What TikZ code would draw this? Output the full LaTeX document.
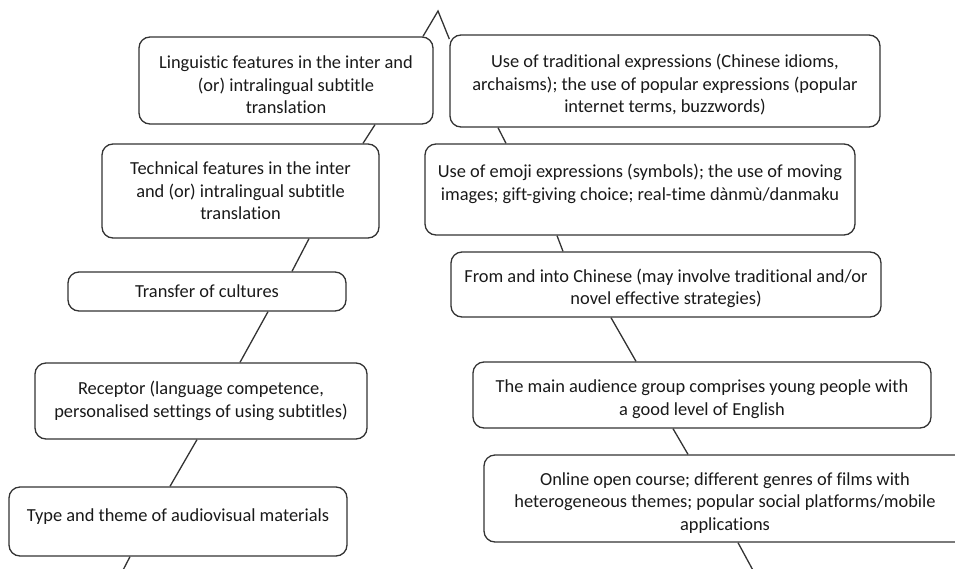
\documentclass[tikz,border=0pt]{standalone}
\usepackage{fontspec}
\setmainfont{Carlito}[Ligatures=NoCommon]
\usetikzlibrary{calc}

% raises the top of a first text line
\newcommand{\lowtop}{\rule{0pt}{21.5pt}}

\begin{document}
\begin{tikzpicture}[
    x=1pt, y=-1pt,
    every node/.style={font=\fontsize{18.4}{22.5}\selectfont, text=black!90},
    fbox/.style={draw=black!80, line width=1.3pt, rounded corners=11pt, align=center, inner sep=0pt},
    link/.style={draw=black!80, line width=1.3pt},
]
  \useasboundingbox (0,0) rectangle (955,568);
  \clip (0,0) rectangle (955,568);

  % peak at the top
  \coordinate (top) at (438,11);

  % left column
  \node[fbox, minimum width=294pt, minimum height=87pt] (l1) at (286,80.5) {\lowtop Linguistic features in the inter and\\(or) intralingual subtitle\\translation};
  \node[fbox, minimum width=277pt, minimum height=94pt] (l2) at (240.5,191) {Technical features in the inter\\and (or) intralingual subtitle\\translation};
  \node[fbox, minimum width=278pt, minimum height=39pt] (l3) at (207,291.5) {Transfer of cultures};
  \node[fbox, minimum width=332pt, minimum height=76pt] (l4) at (201,401) {Receptor (language competence,\\personalised settings of using subtitles)};
  \node[fbox, minimum width=338pt, minimum height=69pt] (l5) at (178,521.5) {Type and theme of audiovisual materials\\[-9.5pt]~};
  \coordinate (lend) at (121,574);

  % right column
  \node[fbox, minimum width=430pt, minimum height=92pt] (r1) at (665,81) {\lowtop Use of traditional expressions (Chinese idioms,\\archaisms); the use of popular expressions (popular\\internet terms, buzzwords)};
  \node[fbox, minimum width=430pt, minimum height=91pt] (r2) at (640,189.5) {Use of emoji expressions (symbols); the use of moving\\images; gift-giving choice; real-time dànmù/danmaku\\[-8pt]~};
  \node[fbox, minimum width=430pt, minimum height=65pt] (r3) at (666,284.5) {\lowtop From and into Chinese (may involve traditional and/or\\novel effective strategies)};
  \node[fbox, minimum width=458pt, minimum height=66pt] (r4) at (702,395) {\lowtop The main audience group comprises young people with\\a good level of English};
  \node[fbox, minimum width=482pt, minimum height=87pt] (r5) at (725,498.5) {\lowtop Online open course; different genres of films with\\heterogeneous themes; popular social platforms/mobile\\applications};
  \coordinate (rend) at (755,574);

  % connectors
  \draw[link] ([xshift=137pt]l1.north) -- (top) -- (r1.169);
  \draw[link] ([xshift=89pt]l1.south) -- ([xshift=122.5pt]l2.north);
  \draw[link] ([xshift=68.5pt]l2.south) -- ([xshift=85pt]l3.north);
  \draw[link] ([xshift=61pt]l3.south) -- ([xshift=39pt]l4.north);
  \draw[link] ([xshift=-4pt]l4.south) -- ([xshift=-8pt]l5.north);
  \draw[link] ([xshift=-48pt]l5.south) -- (lend);
  \draw[link] ([xshift=-167pt]r1.south) -- ([xshift=-134pt]r2.north);
  \draw[link] ([xshift=-83pt]r2.south) -- ([xshift=-103pt]r3.north);
  \draw[link] ([xshift=-55pt]r3.south) -- ([xshift=-66pt]r4.north);
  \draw[link] ([xshift=-29pt]r4.south) -- ([xshift=-37pt]r5.north);
  \draw[link] ([xshift=13pt]r5.south) -- (rend);
\end{tikzpicture}
\end{document}
